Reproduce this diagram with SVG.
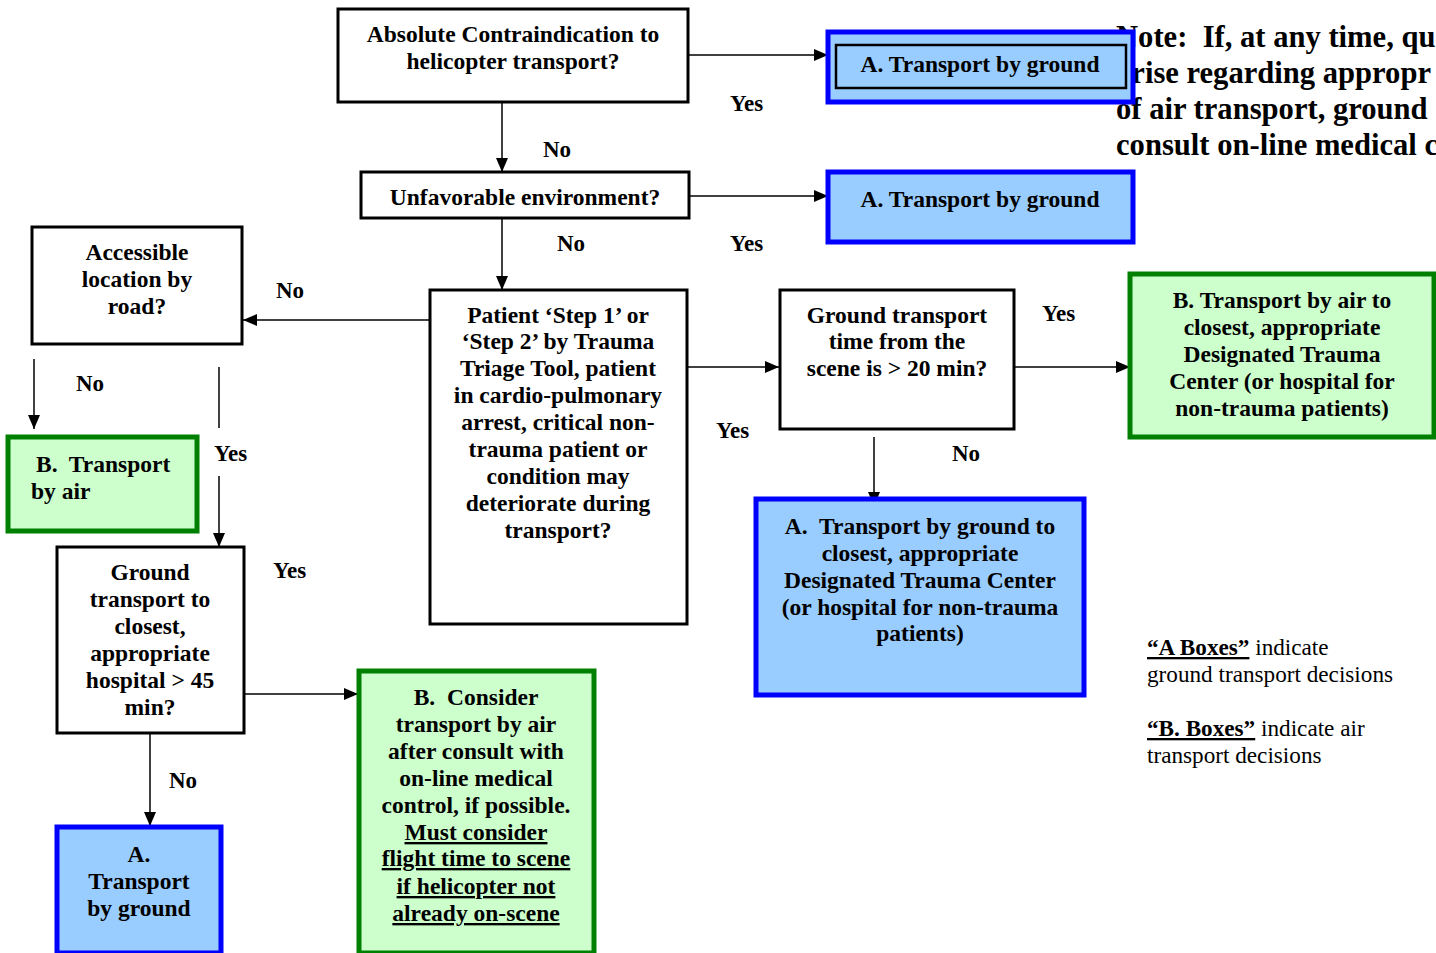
<svg xmlns="http://www.w3.org/2000/svg" width="1436" height="953" viewBox="0 0 1436 953">
<defs>
<marker id="ah" markerWidth="14" markerHeight="12" refX="14" refY="6" orient="auto" markerUnits="userSpaceOnUse">
<path d="M0,0 L14,6 L0,12 Z" fill="#000"/>
</marker>
<style>
.q{fill:#fff;stroke:#000;stroke-width:3}
.a{fill:#99ccff;stroke:#0000ff;stroke-width:5}
.b{fill:#ccffcc;stroke:#008000;stroke-width:5}
.t{font-family:"Liberation Serif","Times New Roman",serif;font-weight:bold;font-size:23.5px;fill:#000;text-anchor:middle}
.l{font-family:"Liberation Serif","Times New Roman",serif;font-weight:bold;font-size:23px;fill:#000}
.n{font-family:"Liberation Serif","Times New Roman",serif;font-weight:bold;font-size:30.6px;fill:#000}
.g{font-family:"Liberation Serif","Times New Roman",serif;font-size:23.2px;fill:#000}
.c{stroke:#000;stroke-width:1.5;fill:none}
.u{text-decoration:underline}
</style>
</defs>
<rect width="1436" height="953" fill="#fff"/>

<g id="note">
<text class="n" x="1116" y="47">Note:&#160; If, at any time, qu</text>
<text class="n" x="1116" y="83">arise regarding appropr</text>
<text class="n" x="1116" y="119">of air transport, ground</text>
<text class="n" x="1116" y="155">consult on-line medical c</text>
</g>

<g id="connectors">
<line class="c" x1="688" y1="55" x2="828" y2="55" marker-end="url(#ah)"/>
<line class="c" x1="502" y1="102" x2="502" y2="172" marker-end="url(#ah)"/>
<line class="c" x1="689" y1="196" x2="828" y2="196" marker-end="url(#ah)"/>
<line class="c" x1="502" y1="218" x2="502" y2="290" marker-end="url(#ah)"/>
<line class="c" x1="430" y1="320" x2="243" y2="320" marker-end="url(#ah)"/>
<line class="c" x1="34" y1="359" x2="34" y2="429" marker-end="url(#ah)"/>
<line class="c" x1="219" y1="367" x2="219" y2="428"/>
<line class="c" x1="219" y1="476" x2="219" y2="547" marker-end="url(#ah)"/>
<line class="c" x1="687" y1="367" x2="779" y2="367" marker-end="url(#ah)"/>
<line class="c" x1="1015" y1="367" x2="1130" y2="367" marker-end="url(#ah)"/>
<line class="c" x1="874" y1="437" x2="874" y2="506" marker-end="url(#ah)"/>
<line class="c" x1="244" y1="694" x2="358" y2="694" marker-end="url(#ah)"/>
<line class="c" x1="150" y1="733" x2="150" y2="826" marker-end="url(#ah)"/>
<text class="l" x="730" y="111">Yes</text>
<text class="l" x="543" y="157">No</text>
<text class="l" x="730" y="251">Yes</text>
<text class="l" x="557" y="251">No</text>
<text class="l" x="276" y="298">No</text>
<text class="l" x="76" y="391">No</text>
<text class="l" x="214" y="461">Yes</text>
<text class="l" x="716" y="438">Yes</text>
<text class="l" x="1042" y="321">Yes</text>
<text class="l" x="952" y="461">No</text>
<text class="l" x="273" y="578">Yes</text>
<text class="l" x="169" y="788">No</text>
</g>

<g id="absolute">
<rect class="q" x="338" y="9" width="350" height="93"/>
<text class="t" x="513" y="42">Absolute Contraindication to</text>
<text class="t" x="513" y="69">helicopter transport?</text>
</g>

<g id="ground-top">
<rect class="a" x="828" y="32" width="305" height="70"/>
<rect x="836" y="45" width="290" height="43" fill="none" stroke="#000" stroke-width="2.5"/>
<text class="t" x="980" y="72">A. Transport by ground</text>
</g>

<g id="unfavorable">
<rect class="q" x="361" y="172" width="328" height="46"/>
<text class="t" x="525" y="205">Unfavorable environment?</text>
</g>

<g id="ground-2">
<rect class="a" x="828" y="172" width="305" height="70"/>
<text class="t" x="980" y="207">A. Transport by ground</text>
</g>

<g id="patient">
<rect class="q" x="430" y="290" width="257" height="334"/>
<text class="t" x="558" y="323">Patient ‘Step 1’ or</text>
<text class="t" x="558" y="349">‘Step 2’ by Trauma</text>
<text class="t" x="558" y="376">Triage Tool, patient</text>
<text class="t" x="558" y="403">in cardio-pulmonary</text>
<text class="t" x="558" y="430">arrest, critical non-</text>
<text class="t" x="558" y="457">trauma patient or</text>
<text class="t" x="558" y="484">condition may</text>
<text class="t" x="558" y="511">deteriorate during</text>
<text class="t" x="558" y="538">transport?</text>
</g>

<g id="accessible">
<rect class="q" x="32" y="227" width="210" height="117"/>
<text class="t" x="137" y="260">Accessible</text>
<text class="t" x="137" y="287">location by</text>
<text class="t" x="137" y="314">road?</text>
</g>

<g id="air-left">
<rect class="b" x="8" y="437" width="189" height="94"/>
<text class="t" x="36" y="472" style="text-anchor:start">B.&#160; Transport</text>
<text class="t" x="31" y="499" style="text-anchor:start">by air</text>
</g>

<g id="ground45">
<rect class="q" x="57" y="547" width="187" height="186"/>
<text class="t" x="150" y="580">Ground</text>
<text class="t" x="150" y="607">transport to</text>
<text class="t" x="150" y="634">closest,</text>
<text class="t" x="150" y="661">appropriate</text>
<text class="t" x="150" y="688">hospital &gt; 45</text>
<text class="t" x="150" y="715">min?</text>
</g>

<g id="ground-bottom">
<rect class="a" x="57" y="827" width="164" height="126"/>
<text class="t" x="139" y="862">A.</text>
<text class="t" x="139" y="889">Transport</text>
<text class="t" x="139" y="916">by ground</text>
</g>

<g id="consider">
<rect class="b" x="359" y="671" width="235" height="282"/>
<text class="t" x="476" y="705">B.&#160; Consider</text>
<text class="t" x="476" y="732">transport by air</text>
<text class="t" x="476" y="759">after consult with</text>
<text class="t" x="476" y="786">on-line medical</text>
<text class="t" x="476" y="813">control, if possible.</text>
<text class="t u" x="476" y="840">Must consider</text>
<text class="t u" x="476" y="866">flight time to scene</text>
<text class="t u" x="476" y="894">if helicopter not</text>
<text class="t u" x="476" y="921">already on-scene</text>
</g>

<g id="ground20">
<rect class="q" x="780" y="290" width="234" height="139"/>
<text class="t" x="897" y="323">Ground transport</text>
<text class="t" x="897" y="349">time from the</text>
<text class="t" x="897" y="376">scene is &gt; 20 min?</text>
</g>

<g id="air-right">
<rect class="b" x="1130" y="274" width="304" height="163"/>
<text class="t" x="1282" y="308">B. Transport by air to</text>
<text class="t" x="1282" y="335">closest, appropriate</text>
<text class="t" x="1282" y="362">Designated Trauma</text>
<text class="t" x="1282" y="389">Center (or hospital for</text>
<text class="t" x="1282" y="416">non-trauma patients)</text>
</g>

<g id="ground-closest">
<rect class="a" x="756" y="499" width="328" height="196"/>
<text class="t" x="920" y="534">A.&#160; Transport by ground to</text>
<text class="t" x="920" y="561">closest, appropriate</text>
<text class="t" x="920" y="588">Designated Trauma Center</text>
<text class="t" x="920" y="615">(or hospital for non-trauma</text>
<text class="t" x="920" y="641">patients)</text>
</g>

<g id="legend">
<text class="g" x="1147" y="655"><tspan font-weight="bold" text-decoration="underline">“A Boxes”</tspan> indicate</text>
<text class="g" x="1147" y="682">ground transport decisions</text>
<text class="g" x="1147" y="736"><tspan font-weight="bold" text-decoration="underline">“B. Boxes”</tspan> indicate air</text>
<text class="g" x="1147" y="763">transport decisions</text>
</g>
</svg>
